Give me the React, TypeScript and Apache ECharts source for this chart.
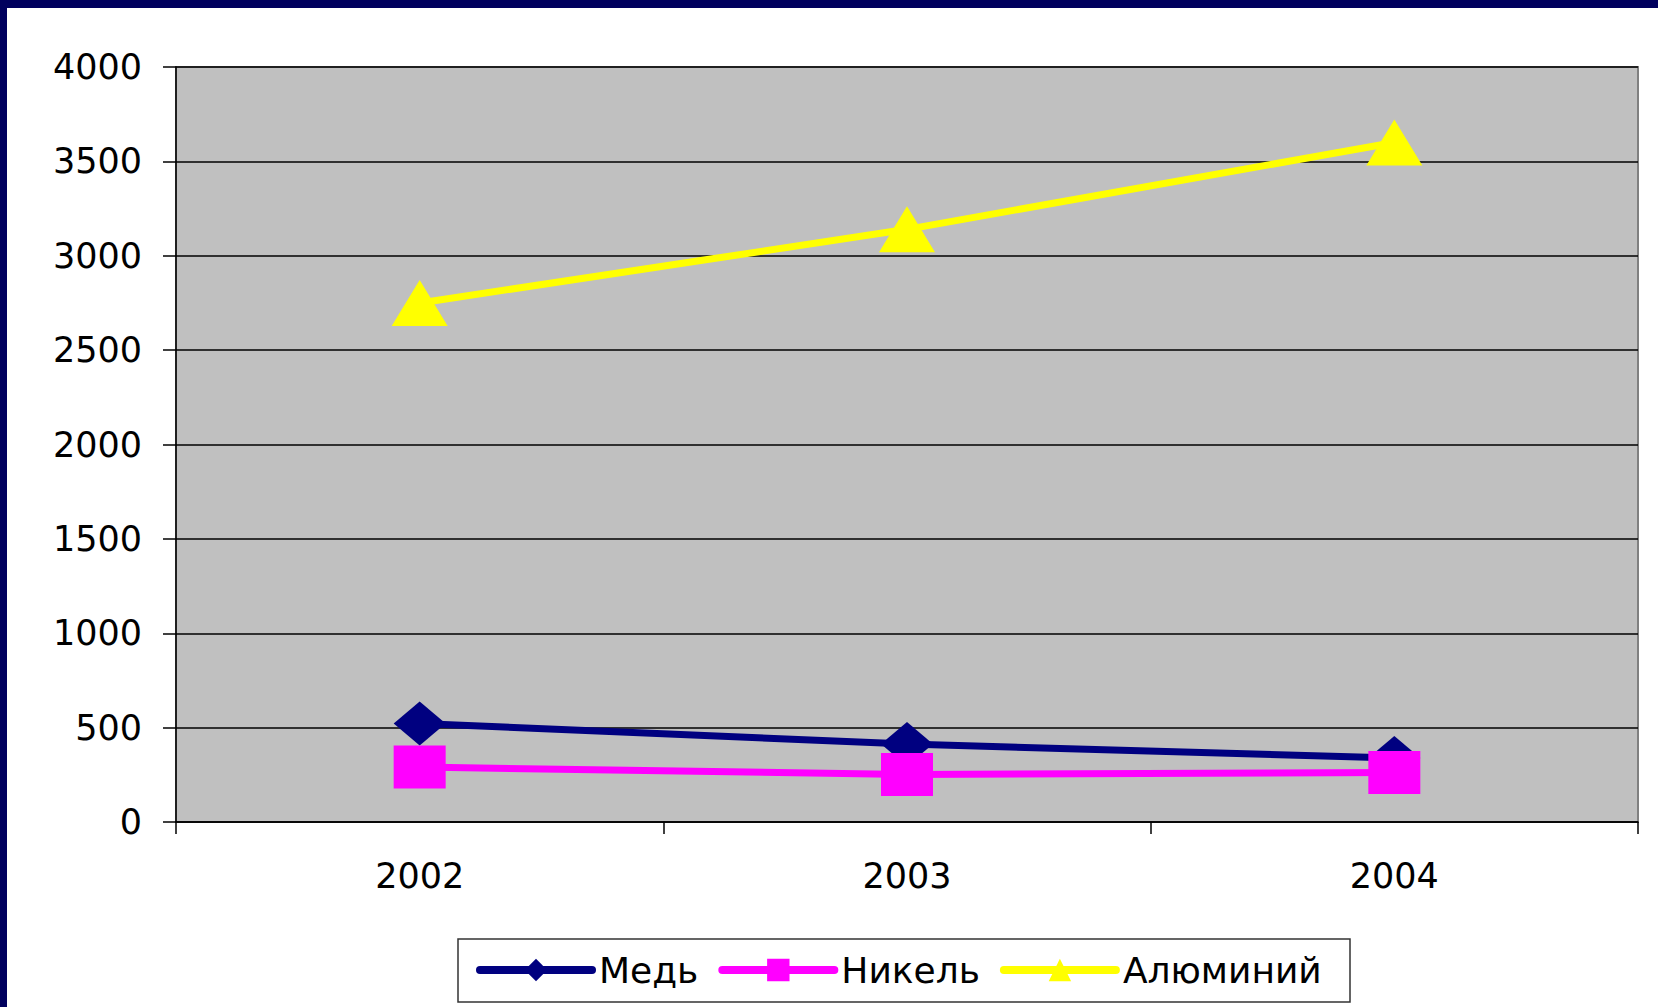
import React, { useEffect, useRef } from "react";
import * as echarts from "echarts";

const years = ["2002", "2003", "2004"];
const copper = [522, 413, 339];
const nickel = [291, 252, 262];
const aluminium = [2750, 3140, 3600];
const seriesNames = ["Медь", "Никель", "Алюминий"];

const FONT = "DejaVu Sans";

export default function App() {
  const ref = useRef<HTMLDivElement>(null);
  useEffect(() => {
    if (!ref.current) return;
    const chart = echarts.init(ref.current, undefined, { renderer: "svg" });
    chart.setOption({
      animation: false,
      backgroundColor: "#ffffff",
      textStyle: { fontFamily: FONT },
      graphic: [
        { type: "rect", shape: { x: 0, y: 0, width: 1658, height: 8 }, style: { fill: "#00005e" }, z: 100 },
        { type: "rect", shape: { x: 0, y: 0, width: 7, height: 1007 }, style: { fill: "#00005e" }, z: 100 },
        {
          type: "rect",
          shape: { x: 458, y: 939, width: 892, height: 63 },
          style: { fill: "none", stroke: "#333333", lineWidth: 1.5 },
          z: 100,
        },
      ],
      grid: {
        left: 176,
        right: 20,
        top: 67,
        bottom: 185,
        show: true,
        backgroundColor: "#c0c0c0",
        borderColor: "#808080",
        borderWidth: 2,
      },
      legend: {
        left: 468,
        top: 944,
        itemWidth: 112,
        itemHeight: 28,
        itemGap: 20,
        padding: 8,
        lineStyle: { width: 8, cap: "round" },
        textStyle: { fontFamily: FONT, fontSize: 36, color: "#000000", padding: [0, 0, 0, 2] },
        data: seriesNames,
      },
      xAxis: {
        type: "category",
        data: years,
        boundaryGap: true,
        axisLine: { lineStyle: { color: "#000000", width: 1.5 } },
        axisTick: { show: true, length: 12, lineStyle: { color: "#000000", width: 1.5 } },
        axisLabel: { fontFamily: FONT, fontSize: 35, color: "#000000", margin: 36 },
        splitLine: { show: false },
      },
      yAxis: {
        type: "value",
        min: 0,
        max: 4000,
        interval: 500,
        axisLine: { show: true, lineStyle: { color: "#000000", width: 1.5 } },
        axisTick: { show: true, length: 13, lineStyle: { color: "#000000", width: 1.5 } },
        axisLabel: {
          fontFamily: FONT,
          fontSize: 35,
          color: "#000000",
          margin: 34,
          formatter: (v: number) => String(v),
        },
        splitLine: { show: true, lineStyle: { color: "#000000", width: 1.5 } },
      },
      series: [
        {
          name: seriesNames[0],
          type: "line",
          data: copper,
          symbol: "diamond",
          symbolSize: [52, 44],
          lineStyle: { color: "#000080", width: 7 },
          itemStyle: { color: "#000080" },
        },
        {
          name: seriesNames[1],
          type: "line",
          data: nickel,
          symbol: "rect",
          symbolSize: [52, 43],
          lineStyle: { color: "#ff00ff", width: 7 },
          itemStyle: { color: "#ff00ff" },
        },
        {
          name: seriesNames[2],
          type: "line",
          data: aluminium,
          symbol: "triangle",
          symbolSize: [56, 46],
          lineStyle: { color: "#ffff00", width: 7 },
          itemStyle: { color: "#ffff00" },
        },
      ],
    });
    return () => chart.dispose();
  }, []);
  return (
    <div
      ref={ref}
      style={{ position: "absolute", left: 0, top: 0, width: 1658, height: 1007 }}
    />
  );
}
